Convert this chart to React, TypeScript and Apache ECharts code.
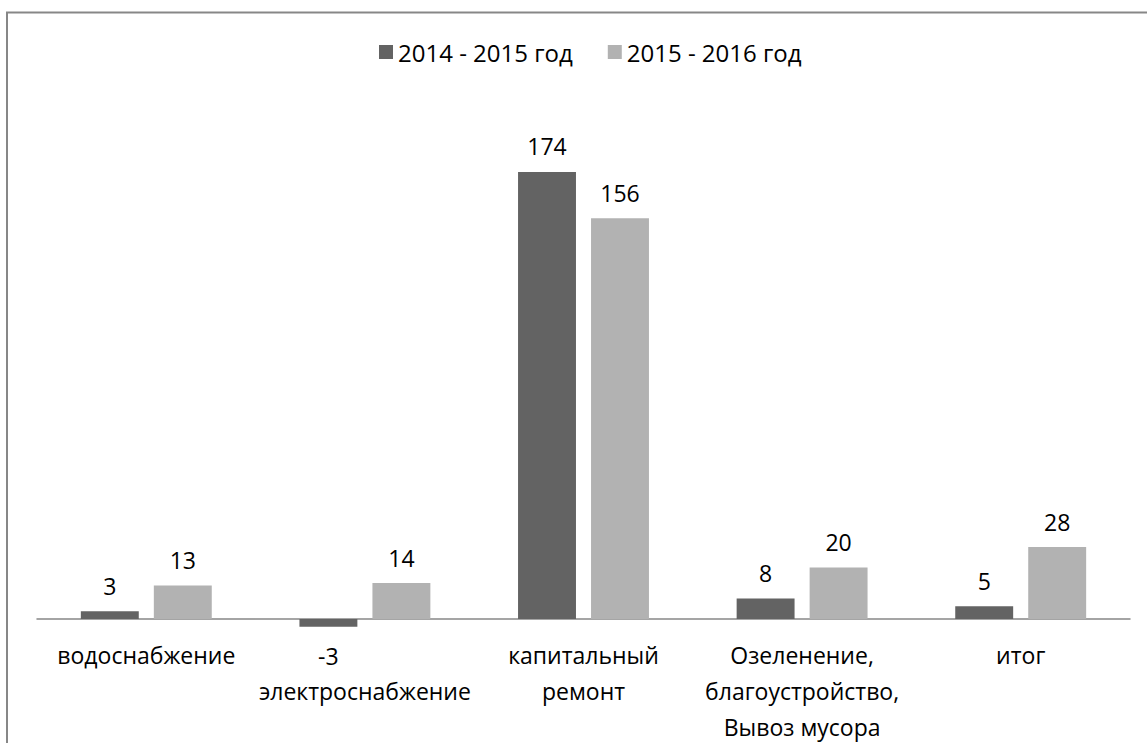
import React, { useEffect, useRef } from "react";
import * as echarts from "echarts";

const categories = [
  "водоснабжение",
  "электроснабжение",
  "капитальный ремонт",
  "Озеленение, благоустройство, Вывоз мусора",
  "итог",
];
const axisLabels = [
  "водоснабжение",
  "\nэлектроснабжение",
  "капитальный\nремонт",
  "Озеленение,\nблагоустройство,\nВывоз мусора",
  "итог",
];
const seriesNames = ["2014 - 2015 год", "2015 - 2016 год"];
const values2014 = [3, -3, 174, 8, 5];
const values2015 = [13, 14, 156, 20, 28];

const FONT = "Open Sans";
const FS = 23;

export default function App() {
  const ref = useRef<HTMLDivElement>(null);
  useEffect(() => {
    if (!ref.current) return;
    const chart = echarts.init(ref.current, undefined, { renderer: "svg" });
    const mkData = (vals: number[]) =>
      vals.map((v) => ({
        value: v,
        label: v < 0 ? { position: "bottom", distance: 18 } : { position: "top", distance: 14 },
      }));
    chart.setOption({
      animation: false,
      backgroundColor: "#fff",
      textStyle: { fontFamily: FONT },
      graphic: [
        {
          type: "rect",
          shape: { x: 7, y: 12.5, width: 1300, height: 900 },
          style: { fill: "none", stroke: "#878787", lineWidth: 2 },
          silent: true,
          z: 100,
        },
      ],
      legend: {
        data: seriesNames,
        top: 35,
        left: 374,
        itemWidth: 14,
        itemHeight: 14,
        itemGap: 35,
        icon: "rect",
        textStyle: { fontFamily: FONT, fontSize: 24, color: "#000" },
      },
      grid: {
        left: 37,
        right: 17,
        top: 105.2,
        bottom: 116.3,
        containLabel: false,
        outerBoundsMode: "none",
      },
      xAxis: {
        type: "category",
        data: categories,
        axisLine: { onZero: true, lineStyle: { color: "#878787", width: 1.5 } },
        axisTick: { show: false },
        axisLabel: {
          interval: 0,
          margin: 10,
          fontFamily: FONT,
          fontSize: FS,
          lineHeight: 36,
          color: "#000",
          formatter: (_v: string, i: number) => axisLabels[i],
        },
      },
      yAxis: {
        type: "value",
        min: -3,
        max: 200,
        show: false,
        splitLine: { show: false },
      },
      series: [
        {
          name: seriesNames[0],
          type: "bar",
          data: mkData(values2014),
          barWidth: "26.5%",
          barGap: "26%",
          itemStyle: { color: "#636363" },
          label: { show: true, fontFamily: FONT, fontSize: FS, color: "#000" },
        },
        {
          name: seriesNames[1],
          type: "bar",
          data: mkData(values2015),
          barWidth: "26.5%",
          barGap: "26%",
          itemStyle: { color: "#b2b2b2" },
          label: { show: true, fontFamily: FONT, fontSize: FS, color: "#000" },
        },
      ],
    });
    return () => chart.dispose();
  }, []);
  return (
    <div
      ref={ref}
      style={{ position: "absolute", left: 0, top: 0, width: 1147, height: 743 }}
    />
  );
}
